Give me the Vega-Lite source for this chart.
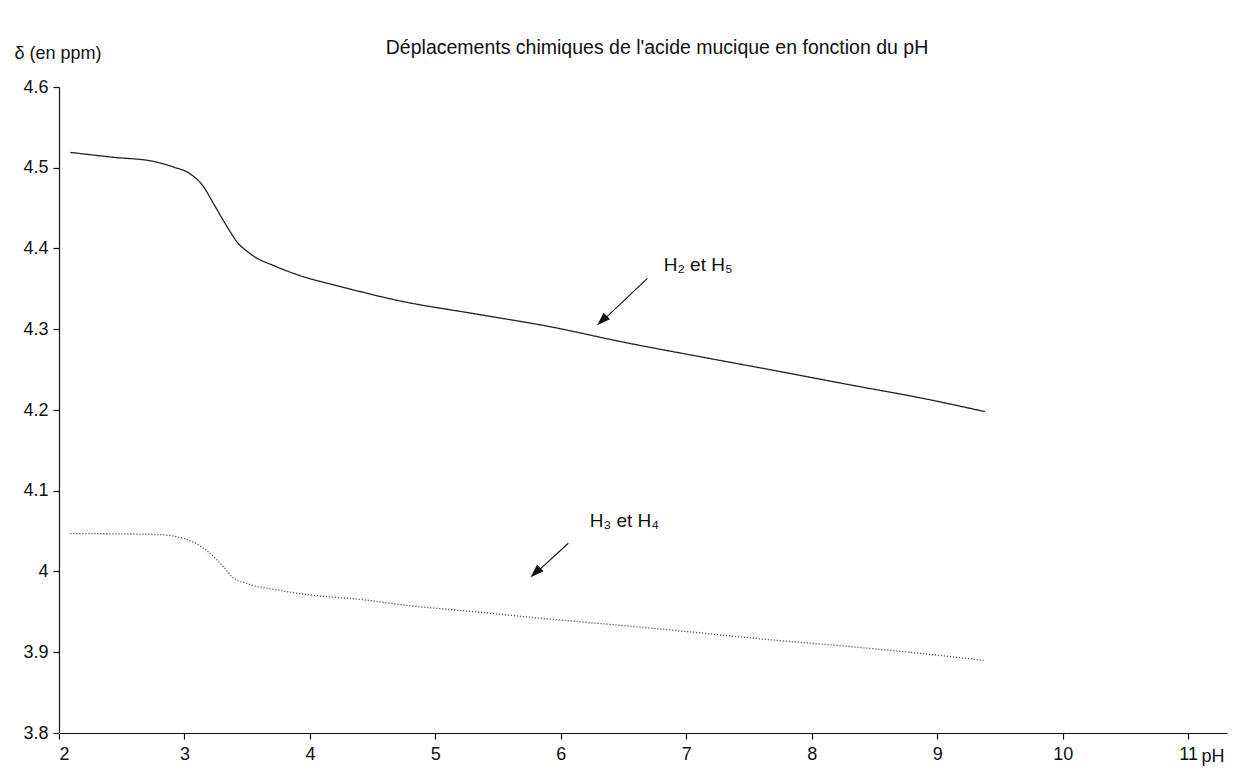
{
  "$schema": "https://vega.github.io/schema/vega-lite/v6.json",
  "width": 1168,
  "height": 646,
  "autosize": {"type": "none"},
  "padding": {"left": 59, "top": 87, "right": 11, "bottom": 42},
  "background": "white",
  "config": {
    "view": {"stroke": null},
    "font": "Liberation Sans",
    "axis": {"grid": false, "domainColor": "#111", "tickColor": "#111", "labelColor": "#111", "titleColor": "#111", "labelFont": "Liberation Sans", "titleFont": "Liberation Sans", "labelFontSize": 18, "titleFontSize": 18, "titleFontWeight": "normal", "tickSize": 6, "domainWidth": 1.2, "tickWidth": 1.2}
  },
  "title": {"text": "Déplacements chimiques de l'acide mucique en fonction du pH", "font": "Liberation Sans", "fontSize": 19.5, "fontWeight": "normal", "color": "#111", "anchor": "middle", "dx": 14, "offset": -14},
  "datasets": {
    "curves": [
      {"s": "H2H5", "pH": 2.09, "d": 4.519},
      {"s": "H2H5", "pH": 2.43, "d": 4.513},
      {"s": "H2H5", "pH": 2.75, "d": 4.508},
      {"s": "H2H5", "pH": 2.91, "d": 4.501},
      {"s": "H2H5", "pH": 3.04, "d": 4.493},
      {"s": "H2H5", "pH": 3.15, "d": 4.477},
      {"s": "H2H5", "pH": 3.23, "d": 4.456},
      {"s": "H2H5", "pH": 3.34, "d": 4.427},
      {"s": "H2H5", "pH": 3.42, "d": 4.408},
      {"s": "H2H5", "pH": 3.52, "d": 4.394},
      {"s": "H2H5", "pH": 3.74, "d": 4.377},
      {"s": "H2H5", "pH": 3.95, "d": 4.365},
      {"s": "H2H5", "pH": 4.24, "d": 4.353},
      {"s": "H2H5", "pH": 4.72, "d": 4.335},
      {"s": "H2H5", "pH": 5.32, "d": 4.319},
      {"s": "H2H5", "pH": 5.92, "d": 4.303},
      {"s": "H2H5", "pH": 6.5, "d": 4.284},
      {"s": "H2H5", "pH": 7.11, "d": 4.266},
      {"s": "H2H5", "pH": 7.7, "d": 4.249},
      {"s": "H2H5", "pH": 8.31, "d": 4.231},
      {"s": "H2H5", "pH": 8.9, "d": 4.214},
      {"s": "H2H5", "pH": 9.38, "d": 4.198},
      {"s": "H3H4", "pH": 2.09, "d": 4.047},
      {"s": "H3H4", "pH": 2.75, "d": 4.046},
      {"s": "H3H4", "pH": 2.94, "d": 4.043},
      {"s": "H3H4", "pH": 3.1, "d": 4.034},
      {"s": "H3H4", "pH": 3.2, "d": 4.023},
      {"s": "H3H4", "pH": 3.31, "d": 4.006},
      {"s": "H3H4", "pH": 3.39, "d": 3.992},
      {"s": "H3H4", "pH": 3.5, "d": 3.985},
      {"s": "H3H4", "pH": 3.74, "d": 3.977},
      {"s": "H3H4", "pH": 4.0, "d": 3.971},
      {"s": "H3H4", "pH": 4.43, "d": 3.965},
      {"s": "H3H4", "pH": 4.72, "d": 3.959},
      {"s": "H3H4", "pH": 5.32, "d": 3.95},
      {"s": "H3H4", "pH": 5.92, "d": 3.941},
      {"s": "H3H4", "pH": 6.5, "d": 3.933},
      {"s": "H3H4", "pH": 7.11, "d": 3.924},
      {"s": "H3H4", "pH": 7.7, "d": 3.915},
      {"s": "H3H4", "pH": 8.31, "d": 3.907},
      {"s": "H3H4", "pH": 8.9, "d": 3.898},
      {"s": "H3H4", "pH": 9.37, "d": 3.89}
    ],
    "arrows": [
      {"x1": 6.69, "y1": 4.363, "x2": 6.33, "y2": 4.31, "hx": 6.33, "hy": 4.311, "label": "H₂ et H₅", "lx": 6.82, "ly": 4.38},
      {"x1": 6.06, "y1": 4.035, "x2": 5.8, "y2": 3.998, "hx": 5.8, "hy": 3.999, "label": "H₃ et H₄", "lx": 6.23, "ly": 4.062}
    ]
  },
  "layer": [
    {
      "data": {"name": "curves"},
      "mark": {"type": "line", "interpolate": "monotone", "strokeWidth": 1.3},
      "encoding": {
        "x": {"field": "pH", "type": "quantitative", "scale": {"domain": [2, 11.31], "nice": false, "zero": false},
              "axis": {"values": [2, 3, 4, 5, 6, 7, 8, 9, 10, 11], "format": "d", "labelPadding": 6, "title": "pH", "titleAnchor": "end", "titleAlign": "right", "titleX": 1165, "titleY": 23, "titleBaseline": "middle"}},
        "y": {"field": "d", "type": "quantitative", "scale": {"domain": [3.8, 4.6], "nice": false, "zero": false},
              "axis": {"values": [3.8, 3.9, 4.0, 4.1, 4.2, 4.3, 4.4, 4.5, 4.6], "format": ".1~f", "labelPadding": 5, "title": "δ (en ppm)", "titleAngle": 0, "titleAlign": "left", "titleBaseline": "middle", "titleX": -45, "titleY": -34}},
        "color": {"field": "s", "type": "nominal", "scale": {"domain": ["H2H5", "H3H4"], "range": ["#222222", "#555555"]}, "legend": null},
        "strokeDash": {"field": "s", "type": "nominal", "scale": {"domain": ["H2H5", "H3H4"], "range": [[1, 0], [1.2, 1.8]]}, "legend": null}
      }
    },
    {
      "data": {"name": "arrows"},
      "mark": {"type": "rule", "color": "#111", "strokeWidth": 1.1},
      "encoding": {
        "x": {"field": "x1", "type": "quantitative"},
        "y": {"field": "y1", "type": "quantitative"},
        "x2": {"field": "x2"},
        "y2": {"field": "y2"}
      }
    },
    {
      "data": {"name": "arrows"},
      "mark": {"type": "point", "shape": "M0,-1L0.65,0.9L-0.65,0.9Z", "filled": true, "color": "#111", "opacity": 1, "size": 200, "angle": 226},
      "encoding": {
        "x": {"field": "hx", "type": "quantitative"},
        "y": {"field": "hy", "type": "quantitative"}
      }
    },
    {
      "data": {"name": "arrows"},
      "mark": {"type": "text", "align": "left", "baseline": "middle", "fontSize": 19, "font": "Liberation Sans", "color": "#111"},
      "encoding": {
        "x": {"field": "lx", "type": "quantitative"},
        "y": {"field": "ly", "type": "quantitative"},
        "text": {"field": "label"}
      }
    }
  ]
}
